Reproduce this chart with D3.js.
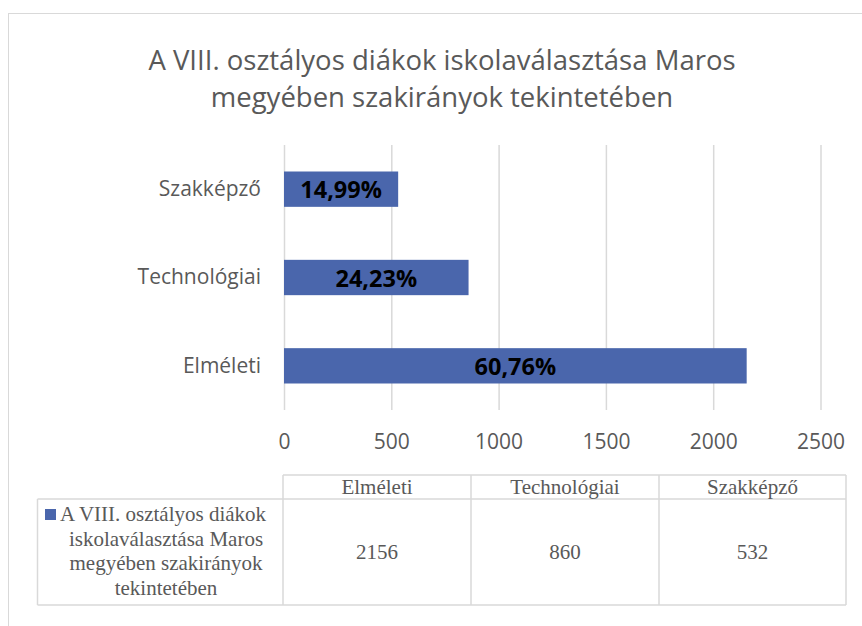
<!DOCTYPE html>
<html>
<head>
<meta charset="utf-8">
<script src="https://cdn.jsdelivr.net/npm/d3@7"></script>
<style>
    body { margin: 0; background: #fff; }
    svg { display: block; }
    .title { font-family: "Open Sans", sans-serif; font-size: 27.5px; fill: #595959; }
    .axis text { font-family: "Open Sans", sans-serif; font-size: 21px; fill: #595959; }
    .bar-label { font-family: "Open Sans", sans-serif; font-size: 23.5px; font-weight: bold; fill: #000; }
    .table text { font-family: "Liberation Serif", "Times New Roman", serif; font-size: 21px; fill: #595959; }
</style>
</head>
<body>
<svg class="chart"></svg>
<script>
const width = 862;
const height = 626;

const titleLines = ['A VIII. osztályos diákok iskolaválasztása Maros', 'megyében szakirányok tekintetében'];
const categories = ['Elméleti', 'Technológiai', 'Szakképző'];
const values = [2156, 860, 532];
const shares = ['60,76%', '24,23%', '14,99%'];
const xTicks = [0, 500, 1000, 1500, 2000, 2500];
const seriesLines = ['A VIII. osztályos diákok', 'iskolaválasztása Maros', 'megyében szakirányok', 'tekintetében'];

const barColor = '#4a66ac';
const gridColor = '#d9d9d9';

const plot = { left: 284, right: 820.5, top: 145, bottom: 410 };

const svg = d3.select('svg.chart')
    .attr('width', width)
    .attr('height', height);

// outer chart border
svg.append('rect')
    .attr('x', 8.5)
    .attr('y', 13.5)
    .attr('width', 900)
    .attr('height', 700)
    .attr('fill', 'none')
    .attr('stroke', gridColor);

// title
svg.append('text')
    .attr('class', 'title')
    .attr('text-anchor', 'middle')
    .selectAll('tspan')
    .data(titleLines)
    .join('tspan')
    .attr('x', 442)
    .attr('y', (d, i) => 70 + i * 37)
    .text(d => d);

const x = d3.scaleLinear()
    .domain([0, 2500])
    .range([plot.left, plot.right]);

const y = d3.scaleBand()
    .domain(categories.slice().reverse())
    .range([plot.top, plot.bottom])
    .paddingInner(0.6)
    .paddingOuter(0.3);

// x axis with gridlines
const xAxis = svg.append('g')
    .attr('class', 'axis')
    .attr('transform', `translate(0,${plot.bottom})`)
    .call(d3.axisBottom(x)
        .tickValues(xTicks)
        .tickFormat(d3.format('d'))
        .tickSize(-(plot.bottom - plot.top))
        .tickPadding(24));
xAxis.select('.domain').remove();
xAxis.selectAll('line').attr('stroke', gridColor).attr('stroke-width', 1.5);

// category labels
const yAxis = svg.append('g')
    .attr('class', 'axis')
    .attr('transform', `translate(${plot.left},0)`)
    .call(d3.axisLeft(y).tickSize(0).tickPadding(23));
yAxis.select('.domain').remove();

// bars
svg.append('g')
    .selectAll('rect')
    .data(categories)
    .join('rect')
    .attr('x', x(0))
    .attr('y', d => y(d))
    .attr('width', (d, i) => x(values[i]) - x(0))
    .attr('height', y.bandwidth())
    .attr('fill', barColor);

// percentage labels
svg.append('g')
    .selectAll('text')
    .data(categories)
    .join('text')
    .attr('class', 'bar-label')
    .attr('text-anchor', 'middle')
    .attr('dominant-baseline', 'central')
    .attr('x', (d, i) => (x(0) + x(values[i])) / 2)
    .attr('y', d => y(d) + y.bandwidth() / 2)
    .text((d, i) => shares[i]);

// data table below the chart
const table = svg.append('g').attr('class', 'table');
const colEdges = [283, 471, 659, 846];
const rowTop = 475, rowMid = 499, rowBottom = 605, tableLeft = 37.5;

const borders = [
    [colEdges[0], rowTop, colEdges[3], rowTop],
    [tableLeft, rowMid, colEdges[3], rowMid],
    [tableLeft, rowBottom, colEdges[3], rowBottom],
    [tableLeft, rowMid, tableLeft, rowBottom],
    ...colEdges.map(cx => [cx, rowTop, cx, rowBottom])
];
table.selectAll('line')
    .data(borders)
    .join('line')
    .attr('x1', d => d[0]).attr('y1', d => d[1])
    .attr('x2', d => d[2]).attr('y2', d => d[3])
    .attr('stroke', gridColor)
    .attr('stroke-width', 1.5);

// header cells
table.selectAll('text.head')
    .data(categories)
    .join('text')
    .attr('class', 'head')
    .attr('text-anchor', 'middle')
    .attr('x', (d, i) => (colEdges[i] + colEdges[i + 1]) / 2)
    .attr('y', 494)
    .text(d => d);

// value cells
table.selectAll('text.val')
    .data(values)
    .join('text')
    .attr('class', 'val')
    .attr('text-anchor', 'middle')
    .attr('x', (d, i) => (colEdges[i] + colEdges[i + 1]) / 2)
    .attr('y', 559)
    .text(d => d);

// series name with legend key
const keyX = 45, firstLineY = 521;
table.append('rect')
    .attr('x', keyX)
    .attr('y', 509)
    .attr('width', 11)
    .attr('height', 11)
    .attr('fill', barColor);

table.append('text')
    .attr('x', keyX + 15)
    .attr('y', firstLineY)
    .text(seriesLines[0]);

table.selectAll('text.series')
    .data(seriesLines.slice(1))
    .join('text')
    .attr('class', 'series')
    .attr('text-anchor', 'middle')
    .attr('x', 166)
    .attr('y', (d, i) => firstLineY + (i + 1) * 24.5)
    .text(d => d);
</script>
</body>
</html>
